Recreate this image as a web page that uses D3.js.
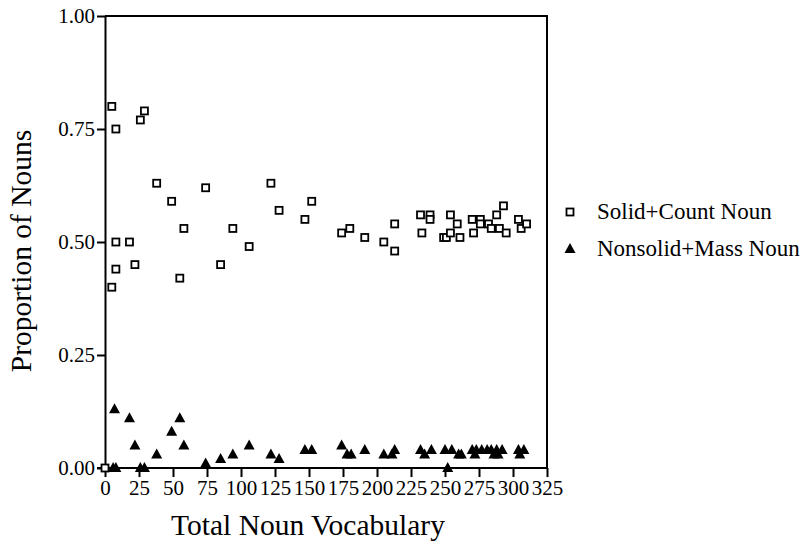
<!DOCTYPE html>
<html>
<head>
<meta charset="utf-8">
<script src="https://cdn.jsdelivr.net/npm/d3@7"></script>
<style>
  body { margin: 0; background: #fff; }
  svg text { font-family: "Liberation Serif", "DejaVu Serif", serif; fill: #000; }
</style>
</head>
<body>
<div id="chart"></div>
<script>
// values: [total noun vocabulary, proportion]
const solidCount = [
  [0, 0.00], [5, 0.80], [5, 0.40], [8, 0.75], [8, 0.50], [8, 0.44], [18, 0.50], [22, 0.45],
  [26, 0.77], [29, 0.79], [38, 0.63], [49, 0.59], [55, 0.42], [58, 0.53], [74, 0.62], [85, 0.45],
  [94, 0.53], [106, 0.49], [122, 0.63], [128, 0.57], [147, 0.55], [152, 0.59], [174, 0.52],
  [180, 0.53], [191, 0.51], [205, 0.50], [213, 0.54], [213, 0.48], [232, 0.56], [233, 0.52],
  [239, 0.56], [239, 0.55], [249, 0.51], [251, 0.51], [254, 0.56], [254, 0.52], [259, 0.54],
  [261, 0.51], [270, 0.55], [271, 0.52], [276, 0.55], [276, 0.54], [282, 0.54], [284, 0.53],
  [288, 0.56], [290, 0.53], [293, 0.58], [295, 0.52], [304, 0.55], [306, 0.53], [310, 0.54]
];
const nonsolidMass = [
  [6, 0.00], [8, 0.00], [7, 0.13], [18, 0.11], [22, 0.05], [26, 0.00], [29, 0.00], [38, 0.03],
  [49, 0.08], [55, 0.11], [58, 0.05], [74, 0.01], [85, 0.02], [94, 0.03], [106, 0.05],
  [122, 0.03], [128, 0.02], [147, 0.04], [152, 0.04], [174, 0.05], [178, 0.03], [181, 0.03],
  [191, 0.04], [205, 0.03], [211, 0.03], [213, 0.04], [232, 0.04], [235, 0.03], [240, 0.04],
  [250, 0.04], [252, 0.00], [255, 0.04], [260, 0.03], [262, 0.03], [270, 0.04], [272, 0.03],
  [273, 0.04], [277, 0.04], [281, 0.04], [284, 0.04], [286, 0.03], [288, 0.04], [289, 0.03],
  [292, 0.04], [304, 0.04], [305, 0.03], [308, 0.04]
];
const xTicks = d3.range(0, 326, 25);
const yTicks = [0, 0.25, 0.5, 0.75, 1.0];
const legendLabels = ["Solid+Count Noun", "Nonsolid+Mass Noun"];

const margin = { top: 16, right: 259, bottom: 76, left: 105 },
  width = 806 - margin.left - margin.right,
  height = 544 - margin.top - margin.bottom;

const svg = d3.select("#chart").append("svg")
  .attr("width", 806).attr("height", 544)
  .append("g")
  .attr("transform", `translate(${margin.left},${margin.top})`);

const xScale = d3.scaleLinear().domain([0, 325]).range([0, width]);
const yScale = d3.scaleLinear().domain([0, 1]).range([height, 0]);

// frame: top and right borders
svg.append("path")
  .attr("d", `M0,0H${width}V${height}`)
  .attr("fill", "none").attr("stroke", "#000").attr("stroke-width", 2);

const xAxis = svg.append("g")
  .attr("transform", `translate(0,${height})`)
  .call(d3.axisBottom(xScale).tickValues(xTicks).tickSize(9).tickPadding(3).tickSizeOuter(0));
const yAxis = svg.append("g")
  .call(d3.axisLeft(yScale).tickValues(yTicks).tickFormat(d3.format(".2f")).tickSize(8).tickPadding(2).tickSizeOuter(0));

[xAxis, yAxis].forEach(g => {
  g.select(".domain").attr("stroke-width", 2);
  g.selectAll(".tick line").attr("stroke-width", 2);
  g.selectAll(".tick text").style("font-size", "21px").style("font-family", "Liberation Serif");
});
xAxis.select(".domain").attr("d", `M-8,0H${width}`);

// triangles
const tri = "M0,-6L5.5,4L-5.5,4Z";
svg.selectAll("path.tri")
  .data(nonsolidMass)
  .join("path")
  .attr("class", "tri")
  .attr("d", tri)
  .attr("transform", d => `translate(${xScale(d[0])},${yScale(d[1])})`)
  .attr("fill", "#000");

// squares
svg.selectAll("rect.sq")
  .data(solidCount)
  .join("rect")
  .attr("class", "sq")
  .attr("x", d => xScale(d[0]) - 3.5)
  .attr("y", d => yScale(d[1]) - 3.5)
  .attr("width", 7).attr("height", 7)
  .attr("fill", "#fff").attr("stroke", "#000").attr("stroke-width", 1.8);

// axis titles
svg.append("text")
  .attr("x", 203).attr("y", height + 67)
  .attr("text-anchor", "middle")
  .style("font-size", "29.5px")
  .text("Total Noun Vocabulary");

svg.append("text")
  .attr("transform", `translate(${31 - margin.left},${235}) rotate(-90)`)
  .attr("text-anchor", "middle")
  .style("font-size", "29.5px")
  .text("Proportion of Nouns");

// legend
const legend = svg.append("g").attr("transform", `translate(${width + 23},0)`);
legend.append("rect")
  .attr("x", -3.5).attr("y", 196 - 3.5).attr("width", 7).attr("height", 7)
  .attr("fill", "#fff").attr("stroke", "#000").attr("stroke-width", 1.8);
legend.append("path").attr("d", tri).attr("transform", "translate(0,233)").attr("fill", "#000");
legend.selectAll("text.lg")
  .data(legendLabels)
  .join("text")
  .attr("class", "lg")
  .attr("x", 27)
  .attr("y", (d, i) => 203 + i * 37)
  .style("font-size", "23px")
  .text(d => d);
</script>
</body>
</html>
